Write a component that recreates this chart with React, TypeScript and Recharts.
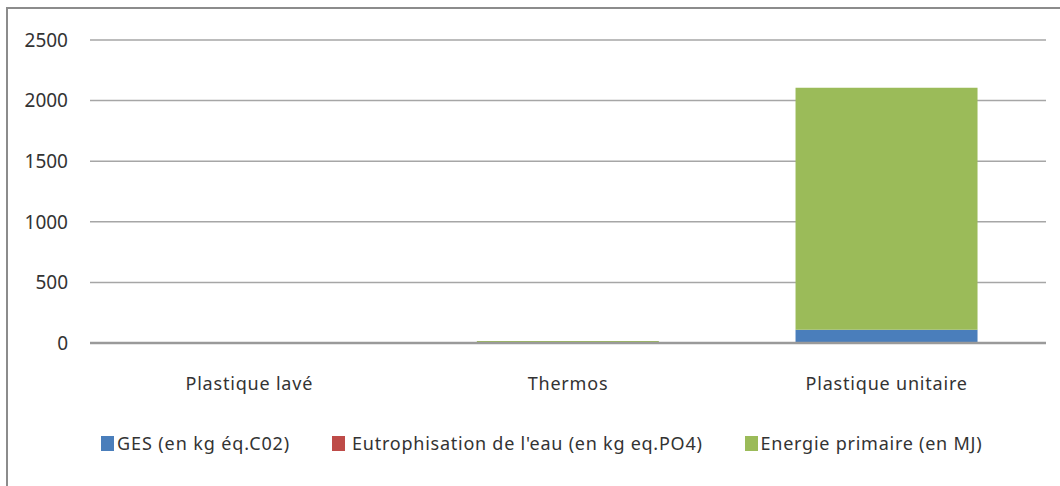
import React from "react"
import { BarChart, Bar, XAxis, YAxis, CartesianGrid } from "recharts"

const categories = ["Plastique lavé", "Thermos", "Plastique unitaire"]
const ges = [0.5, 2, 110]
const eutrophisation = [0.02, 0.05, 0.1]
const energie = [1, 15, 1995]
const yTicks = [0, 500, 1000, 1500, 2000, 2500]

const series = [
    { key: "ges", name: "GES (en kg éq.C02)", color: "#4a7ebb", values: ges },
    { key: "eutro", name: "Eutrophisation de l'eau (en kg eq.PO4)", color: "#be4b48", values: eutrophisation },
    { key: "energie", name: "Energie primaire (en MJ)", color: "#9bbb59", values: energie },
]

const data = categories.map((name, i) => {
    const row: Record<string, string | number> = { name }
    series.forEach((s) => {
        row[s.key] = s.values[i]
    })
    return row
})

const font = "'Noto Sans', sans-serif"

export default function App() {
    return (
        <div style={{ position: "absolute", left: 0, top: 0, width: 1060, height: 486, background: "#fff", fontFamily: font }}>
            {/* frame */}
            <div style={{ position: "absolute", left: 6, top: 7, width: 1060, height: 486, borderTop: "2px solid #8c8c8c", borderLeft: "2px solid #8c8c8c" }} />
            <div style={{ position: "absolute", left: 0, top: 0 }}>
                <BarChart width={1060} height={486} data={data} margin={{ top: 40, right: 14, left: 0, bottom: 0 }} barCategoryGap="21.4%">
                    <CartesianGrid vertical={false} stroke="#a6a6a6" strokeWidth={1.5} />
                    <XAxis
                        dataKey="name"
                        height={143}
                        tickSize={0}
                        tickMargin={34}
                        axisLine={{ stroke: "#9a9a9a", strokeWidth: 2.5 }}
                        tick={{ fill: "#333", fontSize: 18, fontFamily: font, letterSpacing: 0.8 }}
                    />
                    <YAxis
                        width={90}
                        domain={[0, 2500]}
                        ticks={yTicks}
                        tickSize={0}
                        tickMargin={22}
                        axisLine={false}
                        tick={{ fill: "#333", fontSize: 19, fontFamily: font }}
                    />
                    {series.map((s) => (
                        <Bar key={s.key} dataKey={s.key} name={s.name} stackId="a" fill={s.color} isAnimationActive={false} />
                    ))}
                </BarChart>
            </div>
            {/* legend */}
            <div style={{ position: "absolute", left: 101, top: 431, display: "flex", alignItems: "center", fontSize: 18, color: "#333", whiteSpace: "nowrap" }}>
                {series.map((s, i) => (
                    <div key={s.key} style={{ display: "flex", alignItems: "center", marginRight: i < series.length - 1 ? 42 : 0 }}>
                        <span style={{ display: "inline-block", width: 13, height: 15, background: s.color, marginRight: i === 1 ? 7 : 3 }} />
                        <span style={{ letterSpacing: i === 0 ? 0.9 : 0.75 }}>{s.name}</span>
                    </div>
                ))}
            </div>
        </div>
    )
}
